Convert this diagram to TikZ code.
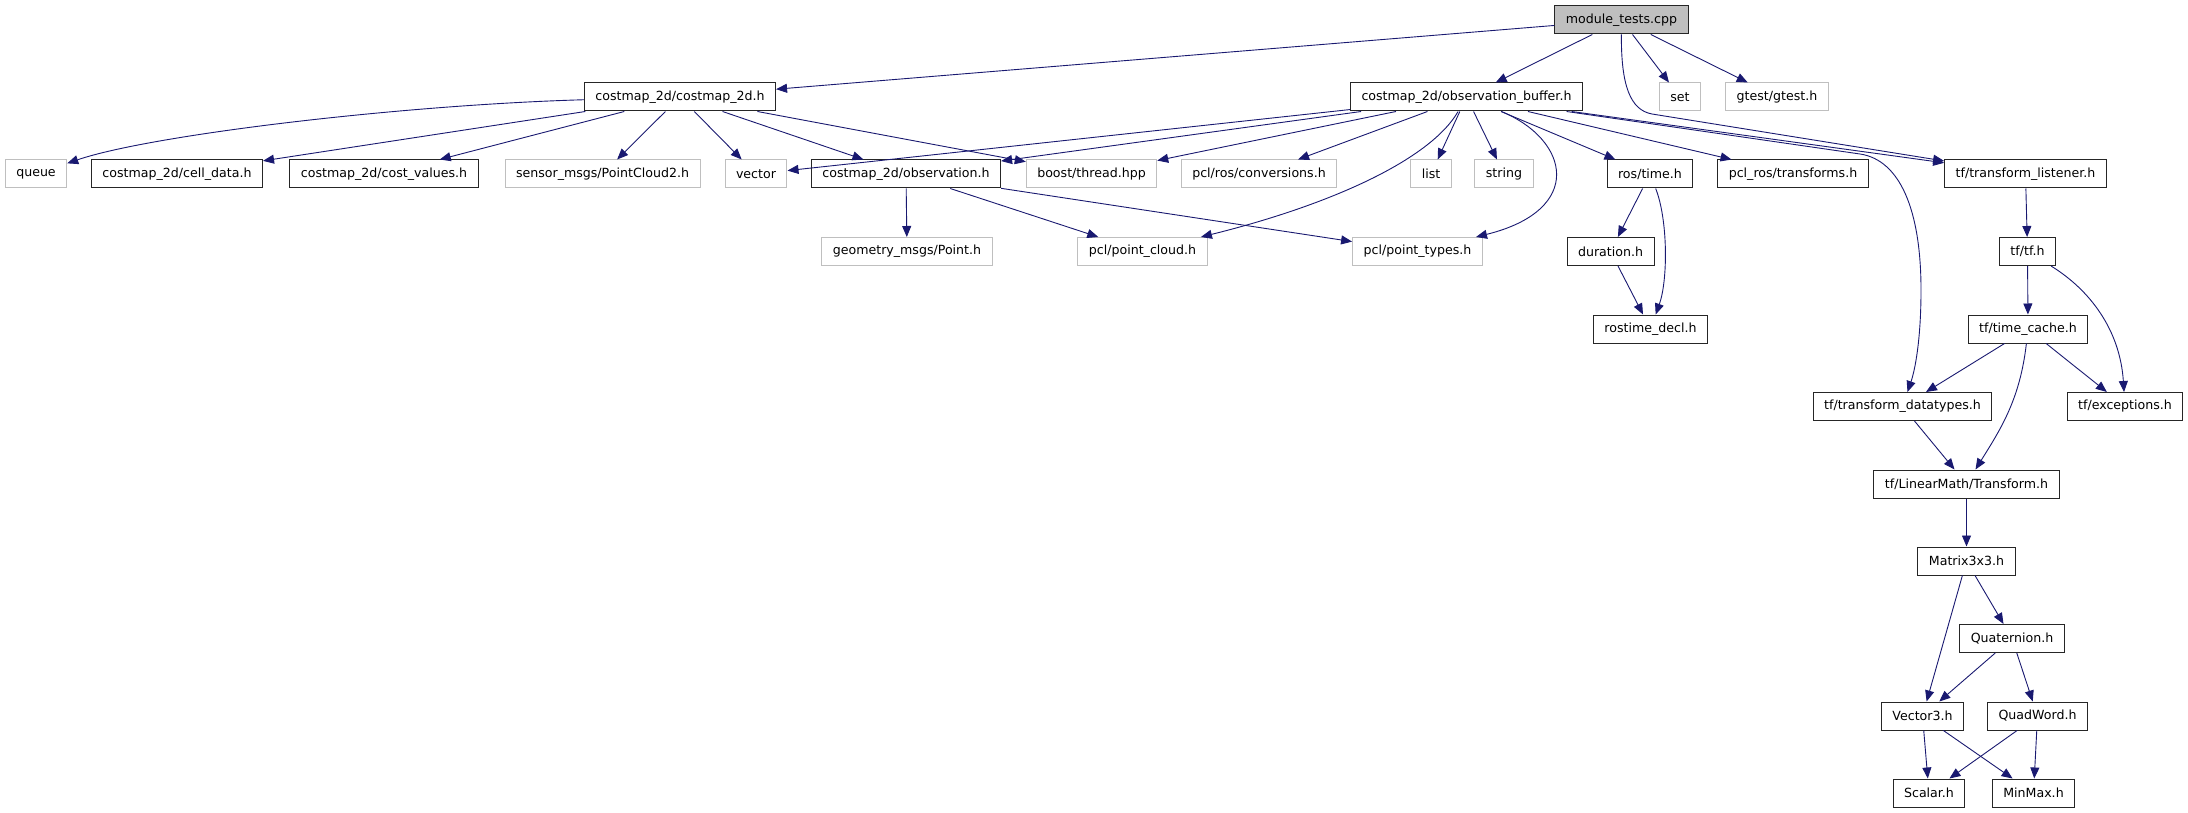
\documentclass[tikz,border=0pt]{standalone}
\usepackage{fontspec}
\setmainfont{DejaVu Sans}
\usetikzlibrary{arrows.meta}
\definecolor{edgeblue}{HTML}{191970}
\definecolor{sysgray}{HTML}{BFBFBF}

\begin{document}
\begin{tikzpicture}[
		x=1pt, y=-1pt,
		every node/.style={rectangle, draw=black!85, line width=1pt, minimum height=28pt, inner xsep=11pt, inner ysep=0pt, font=\fontsize{12.6pt}{15pt}\selectfont},
		sys/.style={draw=sysgray},
		root/.style={fill=sysgray, draw=black!85},
		every edge/.style={draw, edgeblue, line width=0.9pt, -{Triangle[length=11pt, width=9pt]}},
		link/.style={edgeblue, line width=0.9pt, -{Triangle[length=11pt, width=9pt]}}
	]
  \useasboundingbox (0,0) rectangle (2188,813);
  \node (mt) [root] at (1621.5, 20) {module\_tests.cpp};
  % row 1
  \node (cm) at (680, 97) {costmap\_2d/costmap\_2d.h};
  \node (ob) at (1466.5, 97) {costmap\_2d/observation\_buffer.h};
  \node (set) [sys] at (1680, 97) {set};
  \node (gtest) [sys] at (1777, 97) {gtest/gtest.h};
  % row 2
  \node (queue) [sys] at (36, 174) {queue};
  \node (cell) at (177, 174) {costmap\_2d/cell\_data.h};
  \node (cost) at (384, 174) {costmap\_2d/cost\_values.h};
  \node (pc2) [sys] at (602.5, 174) {sensor\_msgs/PointCloud2.h};
  \node (vector) [sys] at (756, 174) {vector};
  \node (obs) at (906, 174) {costmap\_2d/observation.h};
  \node (boost) [sys] at (1091.5, 174) {boost/thread.hpp};
  \node (conv) [sys] at (1259, 174) {pcl/ros/conversions.h};
  \node (list) [sys] at (1431, 174) {list};
  \node (string) [sys] at (1504, 174) {string};
  \node (rtime) at (1650, 174) {ros/time.h};
  \node (pclros) at (1793, 174) {pcl\_ros/transforms.h};
  \node (tfl) at (2025.5, 174) {tf/transform\_listener.h};
  % row 3
  \node (geom) [sys] at (907, 251.5) {geometry\_msgs/Point.h};
  \node (pcloud) [sys] at (1142.5, 251.5) {pcl/point\_cloud.h};
  \node (ptypes) [sys] at (1417.5, 251.5) {pcl/point\_types.h};
  \node (dur) at (1610.5, 251.5) {duration.h};
  \node (tf) at (2027.5, 251.5) {tf/tf.h};
  % row 4 and below
  \node (rdecl) at (1650.5, 329) {rostime\_decl.h};
  \node (tcache) at (2028, 329) {tf/time\_cache.h};
  \node (tdt) at (1902.5, 406.5) {tf/transform\_datatypes.h};
  \node (exc) at (2125, 406.5) {tf/exceptions.h};
  \node (trans) at (1966.5, 484) {tf/LinearMath/Transform.h};
  \node (mat) at (1966.5, 561) {Matrix3x3.h};
  \node (quat) at (2012, 638.5) {Quaternion.h};
  \node (vec3) at (1922.5, 716) {Vector3.h};
  \node (quad) at (2037.5, 716) {QuadWord.h};
  \node (scalar) at (1929, 793) {Scalar.h};
  \node (minmax) at (2033.5, 793) {MinMax.h};

  \draw (mt) edge (cm) edge (ob) edge (set) edge (gtest);
  \draw[link] (mt) .. controls (1621,85) and (1630,110) .. (1652,114) -- (tfl);
  \draw (cm) edge (cell) edge (cost) edge (pc2) edge (vector) edge (obs) edge (boost);
  \draw[link] (cm) .. controls (400,105) and (150,135) .. (queue);
  \draw (ob) edge (vector) edge (obs) edge (boost) edge (conv) edge (list) edge (string) edge (rtime) edge (pclros) edge (tfl);
  \draw[link] (ob) .. controls (1430,160) and (1330,205) .. (pcloud);
  \draw[link] (ob) .. controls (1570,140) and (1585,210) .. (ptypes);
  \draw[link] (ob) -- (1860,154) .. controls (1900,160) and (1921,210) .. (1921,290) .. controls (1921,340) and (1915,370) .. (tdt);
  \draw (obs) edge (geom) edge (pcloud) edge (ptypes);
  \draw (rtime) edge (dur);
  \draw[link] (rtime) .. controls (1668,220) and (1668,280) .. (rdecl);
  \draw (dur) edge (rdecl);
  \draw (tfl) edge (tf);
  \draw (tf) edge (tcache);
  \draw[link] (tf) .. controls (2090,290) and (2120,330) .. (exc);
  \draw (tcache) edge (tdt) edge (exc);
  \draw[link] (tcache) .. controls (2020,400) and (2000,430) .. (trans);
  \draw (tdt) edge (trans);
  \draw (trans) edge (mat);
  \draw (mat) edge (vec3) edge (quat);
  \draw (quat) edge (vec3) edge (quad);
  \draw (vec3) edge (scalar) edge (minmax);
  \draw (quad) edge (scalar) edge (minmax);
\end{tikzpicture}
\end{document}
